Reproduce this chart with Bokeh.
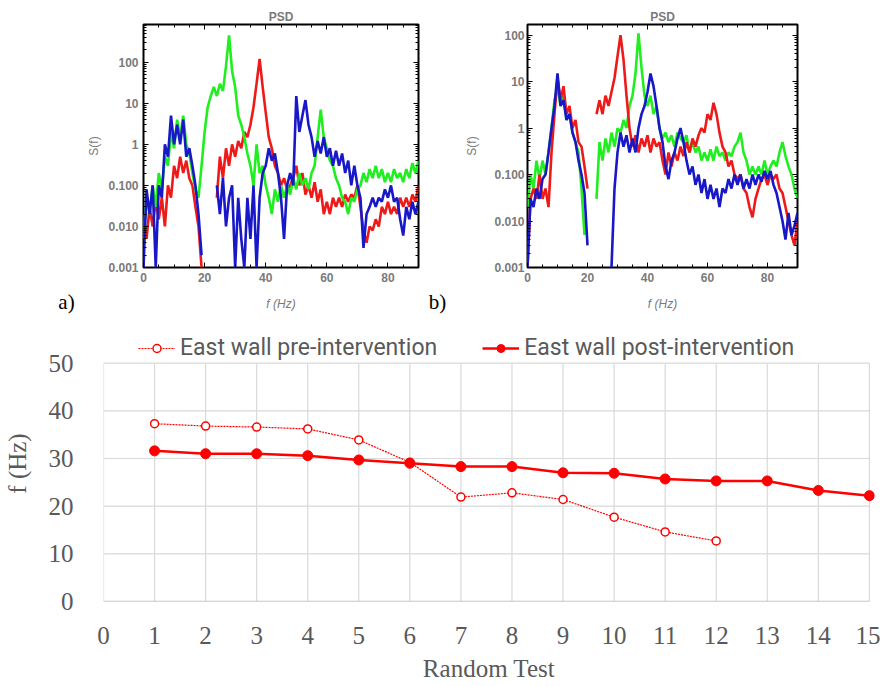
import math
from bokeh.plotting import figure
from bokeh.layouts import column, row
from bokeh.models import (Range1d, FixedTicker, Legend, LegendItem, Title,
                          LinearAxis, LogAxis, CustomJSTickFormatter)
from bokeh.core.properties import value
from bokeh.embed import file_html
from bokeh.resources import INLINE

NaN = float("nan")

# ---------------- PSD data (frequency in Hz, S(f)) ----------------
freq_hz = list(range(91))

psd_a_green = [0.005, 0.05, 0.02, 0.1, 0.03, 0.2, 0.08, 0.5, 0.3, 2,
               0.8, 4, 1.5, 5, 1, 0.6, 0.2, 0.08, 0.05, 0.3,
               2, 8, 15, 25, 15, 30, 20, 80, 450, 60,
               25, 5, 3, 1.5, 0.6, 0.3, 0.1, 1, 0.2, 0.3,
               0.1, 0.05, 0.02, 0.08, 0.04, 0.1, 0.05, 0.1, 0.06, 0.15,
               0.08, 0.2, 0.1, 0.15, 0.08, 0.2, 0.3, 1.5, 7, 1.5,
               0.8, 0.4, 0.3, 0.15, 0.1, 0.05, 0.04, 0.02, 0.05, 0.04,
               0.08, 0.1, 0.2, 0.12, 0.25, 0.15, 0.3, 0.15, 0.25, 0.12,
               0.2, 0.12, 0.25, 0.15, 0.2, 0.12, 0.25, 0.15, 0.35, 0.2,
               0.4]

psd_a_red = [0.02, 0.005, 0.03, 0.01, 0.04, 0.015, 0.05, 0.01, 0.1, 0.05,
             0.3, 0.15, 0.5, 0.2, 0.4, 0.15, 0.1, 0.03, 0.01, 0.001,
             NaN, NaN, NaN, NaN, 0.05, 0.5, 0.15, 0.8, 0.3, 1,
             0.5, 1.2, 0.8, 2, 1.5, 3, 8, 30, 120, 25,
             6, 1.5, 0.8, 0.3, 0.2, 0.1, 0.15, 0.08, 0.1, 0.15,
             0.3, 0.1, 0.2, 0.06, 0.1, 0.05, 0.12, 0.04, 0.08, 0.02,
             0.04, 0.02, 0.05, 0.03, 0.05, 0.03, 0.06, 0.04, 0.06, 0.05,
             0.1, 0.03, 0.008, 0.004, 0.01, 0.008, 0.015, 0.01, 0.03, 0.02,
             0.04, 0.02, 0.03, 0.02, 0.05, 0.03, 0.05, 0.03, 0.06, 0.04,
             0.1]

psd_a_blue = [0.001, 0.08, 0.02, 0.1, 0.001, 0.1, 0.05, 1, 0.5, 5,
              1, 3, 1, 4, 0.5, 0.8, 0.3, 0.1, 0.02, 0.002,
              NaN, NaN, NaN, NaN, 0.1, 0.02, 0.15, 0.01, 0.05, 0.1,
              0.001, 0.05, 0.005, 0.001, 0.05, 0.005, 0.1, 0.001, 0.05, 0.2,
              0.3, 0.8, 0.4, 0.6, 0.2, 0.05, 0.005, 0.1, 0.2, 0.1,
              15, 2, 5, 12, 3, 1.5, 0.5, 1.2, 0.6, 1.5,
              0.5, 0.8, 0.3, 0.7, 0.3, 0.6, 0.2, 0.4, 0.1, 0.3,
              0.1, 0.05, 0.003, 0.02, 0.03, 0.05, 0.03, 0.05, 0.04, 0.08,
              0.05, 0.1, 0.04, 0.05, 0.015, 0.006, 0.03, 0.015, 0.04, 0.02,
              0.04]

psd_b_red = [0.001, 0.03, 0.05, 0.03, 0.1, 0.03, 0.05, 0.02, 0.3, 2,
             12, 4, 8, 2, 3, 1, 1.5, 0.5, 0.4, 0.15,
             0.05, NaN, NaN, 2, 4, 2, 5, 3, 6, 12,
             35, 100, 30, 5, 1, 0.4, 0.7, 0.3, 0.6, 0.4,
             0.7, 0.3, 0.6, 0.4, 0.5, 0.2, 0.1, 0.3, 0.15, 0.3,
             0.2, 0.4, 0.25, 0.5, 0.3, 0.6, 0.4, 0.7, 1, 0.8,
             2, 1.5, 3.5, 2, 0.8, 0.4, 0.3, 0.15, 0.2, 0.1,
             0.08, 0.1, 0.05, 0.04, 0.02, 0.012, 0.03, 0.05, 0.08, 0.1,
             0.06, 0.1, 0.08, 0.1, 0.05, 0.04, 0.02, 0.01, 0.005, 0.003,
             0.01]

psd_b_green = [0.02, 0.1, 0.05, 0.2, 0.08, 0.2, 0.1, 0.3, 1, 4,
               8, 3, 5, 1.5, 2, 0.8, 0.5, 0.3, 0.05, 0.005,
               NaN, NaN, NaN, 0.03, 0.5, 0.2, 0.6, 0.3, 0.8, 0.4,
               1, 0.8, 1.5, 1, 3, 5, 15, 110, 20, 5,
               3, 5, 2, 3, 1, 0.6, 0.8, 0.5, 0.7, 0.4,
               0.8, 0.6, 0.5, 0.7, 0.3, 0.5, 0.3, 0.4, 0.2, 0.3,
               0.2, 0.35, 0.2, 0.4, 0.25, 0.3, 0.2, 0.3, 0.25, 0.4,
               0.5, 0.8, 0.3, 0.2, 0.1, 0.15, 0.1, 0.15, 0.1, 0.2,
               0.1, 0.15, 0.2, 0.15, 0.3, 0.5, 0.25, 0.15, 0.1, 0.05,
               0.03]

psd_b_blue = [0.001, 0.03, 0.02, 0.05, 0.03, 0.08, 0.1, 0.3, 1, 3,
              15, 3, 4, 1.5, 2, 0.8, 0.5, 0.2, 0.1, 0.04,
              0.003, NaN, NaN, NaN, NaN, NaN, NaN, NaN, 0.001, 0.05,
              0.3, 0.8, 0.4, 0.7, 0.3, 0.6, 0.3, 1, 2, 3,
              6, 15, 8, 3, 1, 0.5, 0.15, 0.08, 0.2, 0.3,
              0.6, 1, 0.5, 0.2, 0.1, 0.15, 0.06, 0.1, 0.04, 0.08,
              0.03, 0.06, 0.03, 0.05, 0.02, 0.05, 0.04, 0.08, 0.05, 0.1,
              0.06, 0.1, 0.05, 0.08, 0.05, 0.1, 0.06, 0.1, 0.07, 0.12,
              0.08, 0.12, 0.06, 0.04, 0.02, 0.01, 0.004, 0.015, 0.005, 0.008,
              0.015]

psd_y_ticks = [0.001, 0.01, 0.1, 1, 10, 100]
psd_y_labels = ["0.001", "0.010", "0.100", "1", "10", "100"]
psd_x_ticks = [0, 20, 40, 60, 80]

# ---------------- Frequency vs random test data ----------------
random_test_ticks = list(range(16))
y_freq_ticks = [0, 10, 20, 30, 40, 50]
pre_tests = [1, 2, 3, 4, 5, 6, 7, 8, 9, 10, 11, 12]
pre_freq = [37.3, 36.8, 36.6, 36.2, 33.9, 29.2, 21.9, 22.8, 21.4, 17.7, 14.6, 12.7]
post_tests = [1, 2, 3, 4, 5, 6, 7, 8, 9, 10, 11, 12, 13, 14, 15]
post_freq = [31.6, 31.0, 31.0, 30.6, 29.7, 29.0, 28.3, 28.3, 27.0, 26.9, 25.7, 25.3, 25.3, 23.3, 22.2]

GREEN = "#1fee1f"
RED = "#ee1a1a"
BLUE = "#1818c8"
GRAY = "#7a7a7a"

log_minor = [k * 10.0 ** e for e in range(-3, 3) for k in range(2, 10)]
x_minor = [v for v in range(5, 90, 5) if v % 20 != 0]


def make_psd(width, b_left, b_right, b_bottom, y_top, greens, reds, blues,
             order, lab_standoff, ax_standoff):
    p = figure(width=width, height=288, output_backend="svg", toolbar_location=None,
               x_range=Range1d(0, 90), y_range=Range1d(0.001, y_top),
               y_axis_type="log",
               min_border_left=b_left, min_border_right=b_right,
               min_border_top=24, min_border_bottom=b_bottom)
    p.title = Title(text="PSD", align="center", text_font="Liberation Sans",
                    text_font_size="12px", text_font_style="bold",
                    text_color=GRAY, standoff=1)
    p.outline_line_color = "black"
    p.outline_line_width = 2
    p.xgrid.visible = False
    p.ygrid.visible = False

    series = {"g": (greens, GREEN), "r": (reds, RED), "b": (blues, BLUE)}
    for k in order:
        vals, col = series[k]
        p.line(freq_hz, vals, line_color=col, line_width=2.6)

    p.yaxis.ticker = FixedTicker(ticks=psd_y_ticks, minor_ticks=log_minor)
    p.yaxis.major_label_overrides = {t: l for t, l in zip(psd_y_ticks, psd_y_labels)}
    p.xaxis.ticker = FixedTicker(ticks=psd_x_ticks, minor_ticks=x_minor)
    for ax in (p.xaxis[0], p.yaxis[0]):
        ax.axis_line_color = None
        ax.major_tick_in = 5
        ax.major_tick_out = 0
        ax.minor_tick_in = 3
        ax.minor_tick_out = 0
        ax.major_tick_line_color = "black"
        ax.minor_tick_line_color = "black"
        ax.major_label_text_font = "Liberation Sans"
        ax.major_label_text_font_size = "12px"
        ax.major_label_text_font_style = "bold"
        ax.major_label_text_color = GRAY
        ax.axis_label_text_font = "Liberation Sans"
        ax.axis_label_text_font_size = "12px"
        ax.axis_label_text_color = GRAY
    p.xaxis.major_label_standoff = 5
    p.yaxis.axis_label = "S(f)"
    p.yaxis.axis_label_text_font_style = "normal"
    p.yaxis.major_label_standoff = lab_standoff
    p.yaxis.axis_label_standoff = ax_standoff

    blank = CustomJSTickFormatter(code="return ''")
    top = LinearAxis(ticker=FixedTicker(ticks=psd_x_ticks, minor_ticks=x_minor),
                     formatter=blank, axis_line_color=None,
                     major_tick_in=5, major_tick_out=0, minor_tick_in=3, minor_tick_out=0,
                     major_label_text_font_size="1px", major_label_standoff=0)
    right = LogAxis(ticker=FixedTicker(ticks=psd_y_ticks, minor_ticks=log_minor),
                    formatter=blank, axis_line_color=None,
                    major_tick_in=5, major_tick_out=0, minor_tick_in=3, minor_tick_out=0,
                    major_label_text_font_size="1px", major_label_standoff=0)
    p.add_layout(top, "above")
    p.add_layout(right, "right")
    return p


pa = make_psd(423, 143, 5, 19, 830, psd_a_green, psd_a_red, psd_a_blue,
              ["r", "g", "b"], 5, 4)
pb = make_psd(434, 104, 60, 21, 170, psd_b_green, psd_b_red, psd_b_blue,
              ["g", "r", "b"], 3, 12)

# strip under the PSD panels: panel tags and frequency axis titles
strip = figure(width=880, height=30, output_backend="svg", toolbar_location=None,
               x_range=Range1d(0, 880), y_range=Range1d(0, 30),
               min_border=0, x_axis_type=None, y_axis_type=None)
strip.outline_line_color = None
strip.xgrid.visible = False
strip.ygrid.visible = False
strip.text(x=[66, 437], y=[16.5, 16.5], text=["a)", "b)"], text_align="center",
           text_baseline="middle", text_font=value("Liberation Serif"),
           text_font_size="21px", text_color="black")
strip.text(x=[280.5, 662], y=[15, 15], text=["f (Hz)", "f (Hz)"], text_align="center",
           text_baseline="middle", text_font=value("Liberation Sans"),
           text_font_size="12px", text_font_style="italic", text_color=GRAY)

# ---------------- bottom chart ----------------
TXT = "#595959"
GRID = "#d9d9d9"
# frame extends above the 50 gridline to hold the legend (7.9 units ~ 38 px)
pc = figure(width=880, height=366, output_backend="svg", toolbar_location=None,
            x_range=Range1d(0, 15.1), y_range=Range1d(0, 57.9),
            min_border_left=101, min_border_right=6, min_border_top=7,
            min_border_bottom=80)
pc.outline_line_color = None
pc.xaxis.ticker = FixedTicker(ticks=random_test_ticks)
pc.yaxis.ticker = FixedTicker(ticks=y_freq_ticks)
pc.xgrid.visible = False
pc.ygrid.visible = False
# horizontal gridlines (0..15) and vertical gridlines (0..50) from the tick lists
pc.segment(x0=[random_test_ticks[0]] * len(y_freq_ticks), y0=y_freq_ticks,
           x1=[random_test_ticks[-1]] * len(y_freq_ticks), y1=y_freq_ticks,
           line_color=GRID, line_width=1.2, level="underlay")
pc.segment(x0=random_test_ticks, y0=[y_freq_ticks[0]] * len(random_test_ticks),
           x1=random_test_ticks, y1=[y_freq_ticks[-1]] * len(random_test_ticks),
           line_color=GRID, line_width=1.2, level="underlay")
for ax in (pc.xaxis[0], pc.yaxis[0]):
    ax.major_tick_line_color = None
    ax.minor_tick_line_color = None
    ax.major_label_text_font = "Liberation Serif"
    ax.major_label_text_font_size = "25px"
    ax.major_label_text_color = TXT
    ax.axis_label_text_font = "Liberation Serif"
    ax.axis_label_text_font_size = "25px"
    ax.axis_label_text_color = TXT
    ax.axis_label_text_font_style = "normal"
pc.xaxis.axis_line_color = None
pc.yaxis.axis_line_color = None
pc.segment(x0=[random_test_ticks[0]], y0=[y_freq_ticks[0]],
           x1=[random_test_ticks[-1]], y1=[y_freq_ticks[0]],
           line_color="#bfbfbf", line_width=1.6)
pc.xaxis.axis_label = "Random Test"
pc.yaxis.axis_label = "f (Hz)"
pc.xaxis.major_label_standoff = 19
pc.xaxis.axis_label_standoff = 8
pc.yaxis.major_label_standoff = 24
pc.yaxis.axis_label_standoff = 15

pre_line = pc.line(pre_tests, pre_freq, line_color="#ff0000", line_width=1.2,
                   line_dash="2 1")
pre_pts = pc.scatter(pre_tests, pre_freq, marker="circle", size=8,
                     fill_color="white", line_color="#ff0000", line_width=1.5)
post_line = pc.line(post_tests, post_freq, line_color="#ff0000", line_width=2.5)
post_pts = pc.scatter(post_tests, post_freq, marker="circle", size=10,
                      fill_color="#ff0000", line_color="#ff0000")

legend = Legend(items=[
    LegendItem(label="East wall pre-intervention", renderers=[pre_line, pre_pts]),
    LegendItem(label="East wall post-intervention", renderers=[post_line, post_pts]),
], orientation="horizontal", location=(35, 240))
legend.label_text_font = "Roboto"
legend.label_text_font_size = "23px"
legend.label_text_color = TXT
legend.glyph_width = 37
legend.glyph_height = 20
legend.label_height = 20
legend.label_standoff = 5
legend.spacing = 45
legend.padding = 0
legend.margin = 0
legend.border_line_color = None
legend.background_fill_alpha = 0
pc.add_layout(legend, "center")

top_block = column(row(pa, pb), strip)
layout = column(top_block, pc)

with open("out.html", "w") as f:
    f.write(file_html(layout, INLINE))
